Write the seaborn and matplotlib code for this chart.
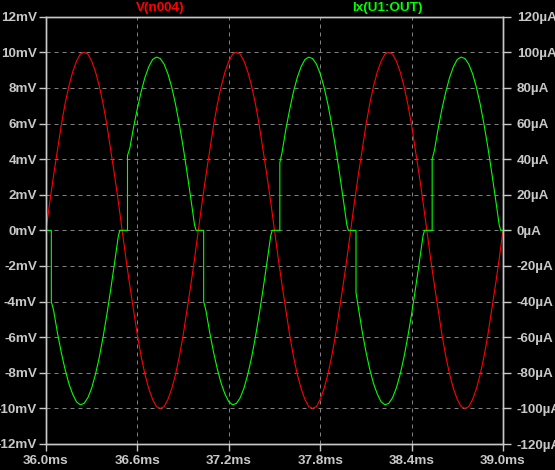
import matplotlib
matplotlib.use("Agg")
import matplotlib.pyplot as plt
import seaborn as sns

# V(n004), mV, one sample every 25 us
red_time_ms = [
    36.0, 36.025, 36.05, 36.075, 36.1, 36.125, 36.15, 36.175, 36.2, 36.225,
    36.25, 36.275, 36.3, 36.325, 36.35, 36.375, 36.4, 36.425, 36.45, 36.475,
    36.5, 36.525, 36.55, 36.575, 36.6, 36.625, 36.65, 36.675, 36.7, 36.725,
    36.75, 36.775, 36.8, 36.825, 36.85, 36.875, 36.9, 36.925, 36.95, 36.975,
    37.0, 37.025, 37.05, 37.075, 37.1, 37.125, 37.15, 37.175, 37.2, 37.225,
    37.25, 37.275, 37.3, 37.325, 37.35, 37.375, 37.4, 37.425, 37.45, 37.475,
    37.5, 37.525, 37.55, 37.575, 37.6, 37.625, 37.65, 37.675, 37.7, 37.725,
    37.75, 37.775, 37.8, 37.825, 37.85, 37.875, 37.9, 37.925, 37.95, 37.975,
    38.0, 38.025, 38.05, 38.075, 38.1, 38.125, 38.15, 38.175, 38.2, 38.225,
    38.25, 38.275, 38.3, 38.325, 38.35, 38.375, 38.4, 38.425, 38.45, 38.475,
    38.5, 38.525, 38.55, 38.575, 38.6, 38.625, 38.65, 38.675, 38.7, 38.725,
    38.75, 38.775, 38.8, 38.825, 38.85, 38.875, 38.9, 38.925, 38.95, 38.975,
    39.0,
]
red_mv = [
    0.0, 1.6, 3.1, 4.5, 5.9, 7.1, 8.1, 8.9, 9.5, 9.9,
    10.0, 9.9, 9.5, 8.9, 8.1, 7.1, 5.9, 4.5, 3.1, 1.6,
    0.0, -1.6, -3.1, -4.5, -5.9, -7.1, -8.1, -8.9, -9.5, -9.9,
    -10.0, -9.9, -9.5, -8.9, -8.1, -7.1, -5.9, -4.5, -3.1, -1.6,
    0.0, 1.6, 3.1, 4.5, 5.9, 7.1, 8.1, 8.9, 9.5, 9.9,
    10.0, 9.9, 9.5, 8.9, 8.1, 7.1, 5.9, 4.5, 3.1, 1.6,
    0.0, -1.6, -3.1, -4.5, -5.9, -7.1, -8.1, -8.9, -9.5, -9.9,
    -10.0, -9.9, -9.5, -8.9, -8.1, -7.1, -5.9, -4.5, -3.1, -1.6,
    0.0, 1.6, 3.1, 4.5, 5.9, 7.1, 8.1, 8.9, 9.5, 9.9,
    10.0, 9.9, 9.5, 8.9, 8.1, 7.1, 5.9, 4.5, 3.1, 1.6,
    0.0, -1.6, -3.1, -4.5, -5.9, -7.1, -8.1, -8.9, -9.5, -9.9,
    -10.0, -9.9, -9.5, -8.9, -8.1, -7.1, -5.9, -4.5, -3.1, -1.6,
    0.0,
]

# Ix(U1:OUT), uA; repeated times are the vertical steps after the dead band
green_time_ms = [
    36.0, 36.025, 36.035, 36.035, 36.05, 36.075, 36.1, 36.125, 36.15, 36.175, 36.2, 36.225,
    36.25, 36.275, 36.3, 36.325, 36.35, 36.375, 36.4, 36.425, 36.45, 36.475, 36.485,
    36.5, 36.525, 36.535, 36.535, 36.55, 36.575, 36.6, 36.625, 36.65, 36.675, 36.7, 36.725,
    36.75, 36.775, 36.8, 36.825, 36.85, 36.875, 36.9, 36.925, 36.95, 36.975, 36.985,
    37.0, 37.025, 37.035, 37.035, 37.05, 37.075, 37.1, 37.125, 37.15, 37.175, 37.2, 37.225,
    37.25, 37.275, 37.3, 37.325, 37.35, 37.375, 37.4, 37.425, 37.45, 37.475, 37.485,
    37.5, 37.525, 37.535, 37.535, 37.55, 37.575, 37.6, 37.625, 37.65, 37.675, 37.7, 37.725,
    37.75, 37.775, 37.8, 37.825, 37.85, 37.875, 37.9, 37.925, 37.95, 37.975, 37.985,
    38.0, 38.025, 38.035, 38.035, 38.05, 38.075, 38.1, 38.125, 38.15, 38.175, 38.2, 38.225,
    38.25, 38.275, 38.3, 38.325, 38.35, 38.375, 38.4, 38.425, 38.45, 38.475, 38.485,
    38.5, 38.525, 38.535, 38.535, 38.55, 38.575, 38.6, 38.625, 38.65, 38.675, 38.7, 38.725,
    38.75, 38.775, 38.8, 38.825, 38.85, 38.875, 38.9, 38.925, 38.95, 38.975, 38.985,
    39.0,
]
green_ua = [
    0, 0, 0, -40, -45, -57.5, -68.5, -78, -86, -92, -96.3, -98,
    -97.2, -94, -88.5, -80.8, -71.2, -59.8, -47, -33, -18.3, -3.1, 0,
    0, 0, 0, 42, 46, 58, 68.5, 78, 86, 92, 96, 97.3,
    96.5, 93.4, 88, 80.5, 71, 59.7, 47, 33, 18.3, 3.1, 0,
    0, 0, 0, -40, -45, -57.5, -68.5, -78, -86, -92, -96.3, -98,
    -97.2, -94, -88.5, -80.8, -71.2, -59.8, -47, -33, -18.3, -3.1, 0,
    0, 0, 0, 38, 44, 57, 68, 78, 86, 92, 96, 97.3,
    96.5, 93.4, 88, 80.5, 71, 59.7, 47, 33, 18.3, 3.1, 0,
    0, 0, 0, -35, -43, -56.5, -68, -78, -86, -92, -96.3, -98,
    -97.2, -94, -88.5, -80.8, -71.2, -59.8, -47, -33, -18.3, -3.1, 0,
    0, 0, 0, 40, 45, 57.5, 68.5, 78, 86, 92, 96, 97.3,
    96.5, 93.4, 88, 80.5, 71, 59.7, 47, 33, 18.3, 3.1, 0,
    0,
]

time_ticks = [36.0, 36.6, 37.2, 37.8, 38.4, 39.0]
mv_ticks = [-12, -10, -8, -6, -4, -2, 0, 2, 4, 6, 8, 10, 12]
ua_ticks = [-120, -100, -80, -60, -40, -20, 0, 20, 40, 60, 80, 100, 120]

GRAY = "#c8c8c8"
GRID = "#808080"
RED = "#ff0000"
GREEN = "#00ff00"

sns.set_theme(style="ticks", rc={
    "figure.facecolor": "black",
    "axes.facecolor": "black",
    "axes.edgecolor": GRAY,
    "xtick.color": GRAY,
    "ytick.color": GRAY,
})
plt.rcParams["font.family"] = ["Liberation Sans", "DejaVu Sans"]
plt.rcParams["font.weight"] = "bold"

fig = plt.figure(figsize=(5.55, 4.7), dpi=100)
ax = fig.add_axes([46 / 555, 1 - 444 / 470, 457 / 555, 427.3 / 470])
ax2 = ax.twinx()

ax.grid(True, color=GRID, linewidth=0.72, linestyle=(0, (4, 4)))

sns.lineplot(x=red_time_ms, y=red_mv, ax=ax, color=RED, linewidth=0.8,
             estimator=None, sort=False)
sns.lineplot(x=green_time_ms, y=green_ua, ax=ax2, color=GREEN, linewidth=0.8,
             estimator=None, sort=False)

ax.set_xlim(36.0, 39.0)
ax.set_ylim(-12, 12)
ax2.set_ylim(-120, 120)

ax.set_xticks(time_ticks)
ax.set_xticklabels([f"{t:.1f}ms" for t in time_ticks])
ax.set_yticks(mv_ticks)
ax.set_yticklabels([f"{v}mV" for v in mv_ticks])
ax2.set_yticks(ua_ticks)
ax2.set_yticklabels([f"{v}\u00b5A" for v in ua_ticks])

for a in (ax, ax2):
    a.set_xlabel("")
    a.set_ylabel("")
    for sp in a.spines.values():
        sp.set_visible(True)
        sp.set_color(GRAY)
        sp.set_linewidth(1.0)

ax.tick_params(axis="y", left=True, direction="out", length=5, width=1,
               pad=1.5, labelsize=9.7, labelcolor=GRAY)
ax.tick_params(axis="x", bottom=True, direction="out", length=5, width=1,
               pad=3, labelsize=9.7, labelcolor=GRAY)
ax2.tick_params(axis="y", right=True, left=False, direction="out", length=6,
                width=1, pad=4, labelsize=9.7, labelcolor=GRAY)

fig.text(160 / 555, 1 - 8 / 470, "V(n004)", color=RED, ha="center",
         va="center", fontsize=9.7, fontweight="bold")
fig.text(387 / 555, 1 - 8 / 470, "Ix(U1:OUT)", color=GREEN, ha="center",
         va="center", fontsize=9.7, fontweight="bold")

fig.savefig("out.png", dpi=100, facecolor="black")
